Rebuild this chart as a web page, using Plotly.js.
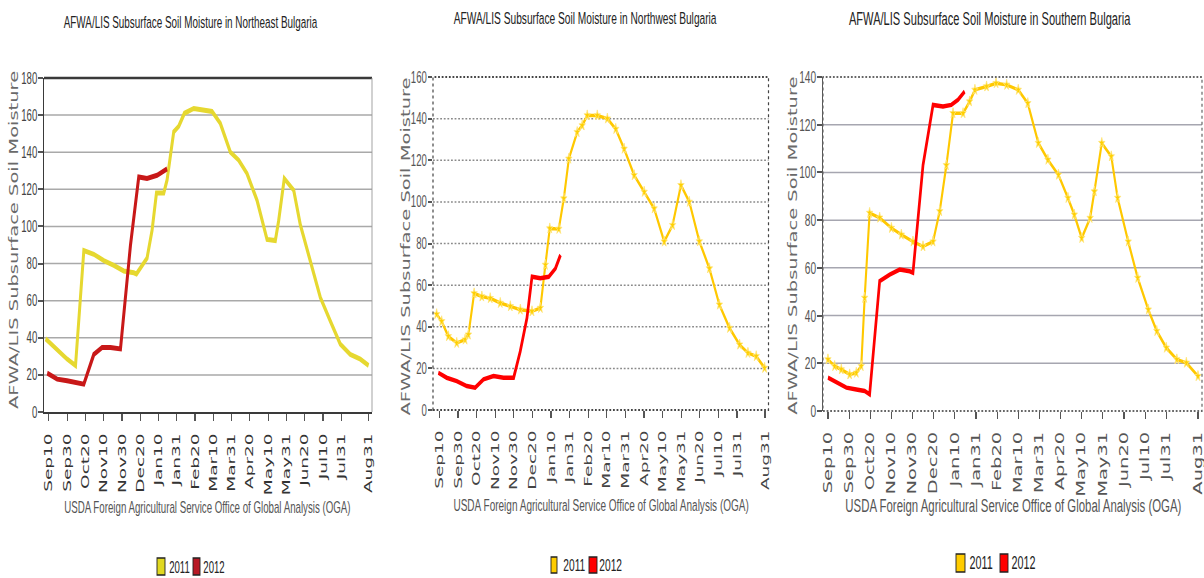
<!DOCTYPE html>
<html>
<head>
<meta charset="utf-8">
<script src="https://cdn.plot.ly/plotly-3.0.1.min.js"></script>
<style>
  html, body { margin: 0; padding: 0; background: #ffffff; }
  #wrap { width: 1204px; height: 578px; overflow: hidden; position: relative; }
  #chart { width: 2007px; height: 578px; transform: scaleX(0.59990); transform-origin: 0 0; }
</style>
</head>
<body>
<div id="wrap"><div id="chart"></div></div>
<script>
// ---------- data (x = dekad index in the Sep..Aug season) ----------
const tickDekads = [1, 3, 5, 7, 9, 11, 13, 15, 17, 19, 21, 23, 25, 27, 29, 31, 33, 36];
const tickLabels = ["Sep10", "Sep30", "Oct20", "Nov10", "Nov30", "Dec20", "Jan10", "Jan31", "Feb20",
                    "Mar10", "Mar31", "Apr20", "May10", "May31", "Jun20", "Jul10", "Jul31", "Aug31"];
const seriesNames = ["2011", "2012"];
const panelTitles = [
  "AFWA/LIS Subsurface Soil Moisture in Northeast Bulgaria",
  "AFWA/LIS Subsurface Soil Moisture in Northwest Bulgaria",
  "AFWA/LIS Subsurface Soil Moisture in Southern Bulgaria"
];
const yTitle = "AFWA/LIS Subsurface Soil Moisture";
const xTitle = "USDA Foreign Agricultural Service Office of Global Analysis (OGA)";

// Northeast Bulgaria
const neX2011 = [0.64, 1.98, 3.0, 3.92, 4.83, 5.92, 7.02, 8.11, 9.2, 10.3, 10.59, 11.75, 12.3, 12.78, 13.58, 13.94,
                 14.67, 15.22, 15.84, 16.86, 17.95, 18.86, 19.77, 20.87, 21.78, 22.69, 23.79, 24.51, 24.88, 25.79,
                 26.15, 26.77, 27.8, 28.52, 29.62, 30.71, 31.81, 32.9, 33.99, 35.09, 36];
const neY2011 = [39.5, 33, 28.5, 25, 87, 85, 81.6, 79, 76, 75, 74.4, 83, 98, 118, 118, 125,
                 151, 154, 161, 163.6, 163, 162, 155.5, 140, 135.7, 128.5, 114, 99.6, 93, 92.4,
                 103, 125.8, 119.5, 101, 81.6, 61.8, 49, 36.6, 31, 28.5, 25];
const neX2012 = [0.82, 1.91, 3.0, 3.92, 4.83, 5.92, 6.83, 7.74, 8.84, 9.93, 10.84, 11.75, 12.85, 13.94];
const neY2012 = [21, 17.7, 16.8, 15.9, 15, 31, 34.8, 34.8, 34, 89.7, 126.7, 125.8, 127.6, 131];

// Northwest Bulgaria
const nwX2011 = [0.71, 1.25, 1.97, 2.87, 3.77, 4.13, 4.74, 5.57, 6.47, 7.55, 8.63, 9.71, 10.96, 11.86, 12.4, 12.87,
                 13.84, 14.38, 14.92, 15.82, 16.36, 16.9, 17.98, 19.06, 19.96, 20.86, 21.94, 23.02, 24.09, 25.17,
                 26.07, 26.97, 27.87, 28.95, 30.03, 31.1, 32.19, 33.27, 34.17, 35.06, 35.96];
const nwY2011 = [46, 42.6, 35.4, 32.2, 33.8, 36.2, 56, 54.5, 53.7, 51.4, 49.8, 48.2, 47.4, 49, 69.7, 87.2,
                 87, 101.6, 120.7, 133.5, 136.7, 141.5, 141.5, 140, 135, 125.5, 112.8, 104.8, 96.8, 80.9,
                 88.8, 108, 100, 81, 68, 50.6, 39.4, 31.4, 27.4, 25.8, 20.2];
const nwX2012 = [0.89, 1.79, 2.87, 3.95, 4.85, 5.75, 6.83, 7.9, 8.99, 9.7, 10.42, 10.96, 11.86, 12.76, 13.48, 14.02];
const nwY2012 = [17.9, 15.5, 13.9, 11.5, 10.7, 14.7, 16.3, 15.5, 15.5, 28.2, 44.2, 64, 63.3, 64, 68, 74.5];

// Southern Bulgaria
const soX2011 = [1, 1.63, 2.26, 3.05, 3.68, 4.15, 4.47, 4.94, 5.89, 7.0, 7.94, 9.04, 9.99, 10.94, 11.57, 12.2,
                 12.83, 13.78, 14.4, 14.9, 16.0, 16.9, 17.9, 19.0, 19.9, 20.9, 21.8, 22.8, 23.7, 24.3,
                 25.0, 25.8, 26.2, 26.9, 27.8, 28.4, 29.4, 30.3, 31.3, 32.1, 33.0, 34.0, 34.9, 36.0];
const soY2011 = [21.6, 18.8, 17.4, 15.3, 16, 18.8, 47.4, 83, 81, 76.7, 73.9, 71, 69, 71, 83.7, 103,
                 124.8, 124.8, 129.7, 134.6, 136, 137.4, 136.7, 134.6, 129, 112.3, 105.3, 99, 89.3, 82.3,
                 72.5, 80.9, 92, 112.3, 106.7, 89.3, 71, 55.8, 42.5, 33.5, 26.5, 21.6, 20.2, 14.6];
const soX2012 = [1, 1.79, 2.74, 3.68, 4.47, 4.94, 5.89, 6.84, 7.78, 8.73, 9.04, 9.99, 10.94, 11.88, 12.67, 13.3, 13.93];
const soY2012 = [14, 11.9, 9.8, 9, 8.4, 7, 54.4, 57.2, 59.3, 58.6, 58, 103, 128.3, 127.6, 128.3, 130.4, 133.9];

// ---------- styling / layout ----------
const ARIAL = "Liberation Sans, Arial, sans-serif";
const VERD = "DejaVu Sans, Verdana, sans-serif";
const SW = 1204, SH = 578;           // screen size; page is drawn wider and squeezed by CSS
const fx = p => p / SW;               // screen px -> paper x
const fy = p => 1 - p / SH;           // screen px -> paper y

const panels = [
  { ax: "", dom: [44, 372, 78, 412], xr: [0.47, 36.37], yr: [0, 180],
    yel: "#e6d830", red: "#c81818", lw: 5, marker: false, xline: true, yline: true,
    grid: { gridcolor: "#a9a9a9", gridwidth: 1.5 }, line: "#3a3a3a",
    tick: 18.5, ytick: 16, tcol: "#333", ycol: "#444",
    title: [191, 22, 16.5], yt: [14.5, 240, 19.5], xt: [207, 507, 16.2],
    leg: { y: [558, 575], sw1: [157, 165], t1: 168, sw2: [193, 200], t2: 202, ty: 567, fs: 16,
           c1: "#e0d820", c2: "#b81824" } },
  { ax: "2", dom: [433, 768.5, 77, 410], xr: [0.32, 36.38], yr: [0, 160],
    yel: "#ffc800", red: "#ff0000", lw: 3.5, marker: true, xline: false, yline: false,
    grid: { gridcolor: "#8a8a8a", gridwidth: 1.5, griddash: "dot" }, line: "#555",
    tick: 18.5, ytick: 16, tcol: "#444", ycol: "#555",
    title: [585, 19, 17], yt: [406, 246, 19.5], xt: [601, 505, 16.7],
    leg: { y: [557, 573], sw1: [551, 557], t1: 562, sw2: [589, 597], t2: 598, ty: 565, fs: 17,
           c1: "#ffcc00", c2: "#ff0000" } },
  { ax: "3", dom: [823, 1202, 77, 411], xr: [0.53, 36.38], yr: [0, 140],
    yel: "#ffc800", red: "#ff0000", lw: 3.5, marker: true, xline: false, yline: true,
    grid: { gridcolor: "#a6a6b0", gridwidth: 1.5 }, line: "#555",
    tick: 19.5, ytick: 17, tcol: "#555", ycol: "#555",
    title: [990, 19, 18.5], yt: [793, 245, 19.5], xt: [1013, 505, 19],
    leg: { y: [554, 572], sw1: [956, 965], t1: 968, sw2: [1000, 1008], t2: 1010, ty: 563, fs: 18,
           c1: "#ffcc00", c2: "#ff0000" } }
];

const seriesData = [
  [neX2011, neY2011, neX2012, neY2012],
  [nwX2011, nwY2011, nwX2012, nwY2012],
  [soX2011, soY2011, soX2012, soY2012]
];

const traces = [];
const layout = {
  width: Math.round(SW / 0.5999), height: SH,
  margin: { l: 0, r: 0, t: 0, b: 0 },
  paper_bgcolor: "#ffffff", plot_bgcolor: "#ffffff",
  showlegend: false, shapes: [], annotations: []
};

panels.forEach((p, i) => {
  const d = seriesData[i];
  const xk = "x" + p.ax, yk = "y" + p.ax;
  const yellowTrace = {
    x: d[0], y: d[1], name: seriesNames[0], type: "scatter",
    mode: p.marker ? "lines+markers" : "lines",
    line: { color: p.yel, width: p.lw },
    xaxis: xk, yaxis: yk, hoverinfo: "skip"
  };
  if (p.marker) yellowTrace.marker = { symbol: "star", size: 8, color: "#ffd000", line: { color: "#ffe680", width: 1 } };
  traces.push(yellowTrace);
  traces.push({
    x: d[2], y: d[3], name: seriesNames[1], type: "scatter", mode: "lines",
    line: { color: p.red, width: p.lw + (p.marker ? 1 : 0) },
    xaxis: xk, yaxis: yk, hoverinfo: "skip"
  });

  layout["xaxis" + p.ax] = {
    domain: [fx(p.dom[0]), fx(p.dom[1])], range: p.xr, anchor: yk,
    tickmode: "array", tickvals: tickDekads, ticktext: tickLabels, tickangle: -90,
    ticks: "outside", ticklen: 7, tickwidth: 2, tickcolor: "#555",
    showline: p.xline, linecolor: p.line, linewidth: 2,
    showgrid: false, zeroline: false, ticklabelstandoff: 5, ticklabeloverflow: "allow",
    tickfont: { family: VERD, size: p.tick, color: p.tcol }, fixedrange: true
  };
  layout["yaxis" + p.ax] = Object.assign({
    domain: [fy(p.dom[3]), fy(p.dom[2])], range: p.yr, anchor: xk,
    tick0: 0, dtick: 20, ticks: "outside", ticklen: 8, tickwidth: 2, tickcolor: "#555",
    showline: p.yline, linecolor: p.line, linewidth: 2,
    showgrid: true, zeroline: false, ticklabelstandoff: -2,
    tickfont: { family: ARIAL, size: p.ytick, color: p.ycol }, fixedrange: true
  }, p.grid);

  // frame
  if (i === 0) {
    layout.shapes.push({ type: "line", xref: "x domain", yref: "y domain", x0: 0, x1: 1, y0: 1, y1: 1,
                         line: { color: "#3a3a3a", width: 2.5 } });
    layout.shapes.push({ type: "line", xref: "x domain", yref: "y domain", x0: 1, x1: 1, y0: 0, y1: 1,
                         line: { color: "#9a9a9a", width: 1.5 } });
  } else {
    layout.shapes.push({ type: "rect", xref: xk + " domain", yref: yk + " domain", x0: 0, x1: 1, y0: 0, y1: 1,
                         line: { color: i === 1 ? "#444" : "#666", width: 2, dash: "dot" } });
  }

  // texts
  layout.annotations.push({ text: panelTitles[i], xref: "paper", yref: "paper",
    x: fx(p.title[0]), y: fy(p.title[1]), xanchor: "center", yanchor: "middle", showarrow: false,
    font: { family: ARIAL, size: p.title[2], color: "#222" } });
  layout.annotations.push({ text: yTitle, xref: "paper", yref: "paper", textangle: -90,
    x: fx(p.yt[0]), y: fy(p.yt[1]), xanchor: "center", yanchor: "middle", showarrow: false,
    font: { family: VERD, size: p.yt[2], color: "#6a6a6a" } });
  layout.annotations.push({ text: xTitle, xref: "paper", yref: "paper",
    x: fx(p.xt[0]), y: fy(p.xt[1]), xanchor: "center", yanchor: "middle", showarrow: false,
    font: { family: ARIAL, size: p.xt[2], color: "#555" } });

  // legend swatches
  const L = p.leg;
  [[L.sw1, L.c1, L.t1, seriesNames[0]], [L.sw2, L.c2, L.t2, seriesNames[1]]].forEach(s => {
    layout.shapes.push({ type: "rect", xref: "paper", yref: "paper",
      x0: fx(s[0][0]), x1: fx(s[0][1]), y0: fy(L.y[1]), y1: fy(L.y[0]),
      fillcolor: s[1], line: { color: "#222", width: 1.5 } });
    layout.annotations.push({ text: s[3], xref: "paper", yref: "paper",
      x: fx(s[2]), y: fy(L.ty), xanchor: "left", yanchor: "middle", showarrow: false,
      font: { family: ARIAL, size: L.fs, color: "#222" } });
  });
});

Plotly.newPlot("chart", traces, layout, { displayModeBar: false, staticPlot: true });
</script>
</body>
</html>
